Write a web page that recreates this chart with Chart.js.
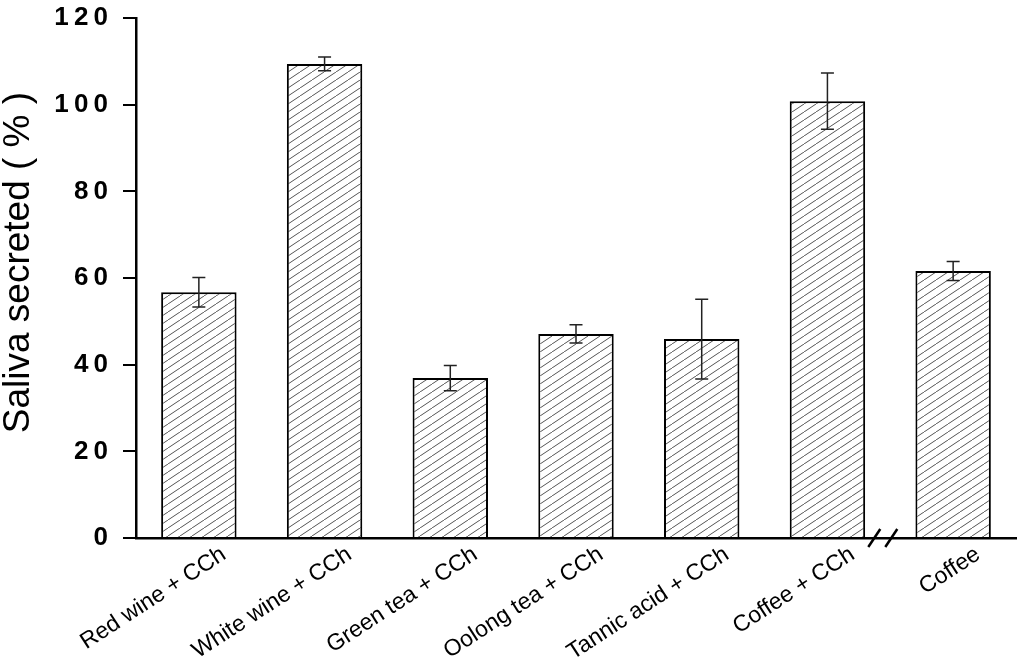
<!DOCTYPE html>
<html>
<head>
<meta charset="utf-8">
<script src="https://cdn.jsdelivr.net/npm/chart.js@4"></script>
<style>
  html, body { margin: 0; padding: 0; background: #fff; }
</style>
</head>
<body>
<canvas id="bar-chart" width="1024" height="667"></canvas>
<script>
const categories = ['Red wine + CCh', 'White wine + CCh', 'Green tea + CCh', 'Oolong tea + CCh', 'Tannic acid + CCh', 'Coffee + CCh', 'Coffee'];
const saliva = [56.7, 109.4, 36.9, 47.1, 45.9, 100.8, 61.6];
const salivaErr = [3.4, 1.6, 2.9, 2.1, 9.2, 6.5, 2.2];
const yTicks = [0, 20, 40, 60, 80, 100, 120];
// the axis break sits between these two bars
const breakAfter = 5;

const FONT = "'Liberation Sans', Arial, sans-serif";

// diagonal hatch fill
function makeHatch() {
  const w = 12, h = 8;
  const c = document.createElement('canvas');
  c.width = w; c.height = h;
  const g = c.getContext('2d');
  g.fillStyle = '#fff';
  g.fillRect(0, 0, w, h);
  g.strokeStyle = '#555';
  g.lineWidth = 1;
  [-w, 0, w].forEach(dx => {
    g.beginPath();
    g.moveTo(dx, h);
    g.lineTo(dx + w, 0);
    g.stroke();
  });
  return g.createPattern(c, 'repeat');
}

const errorBars = {
  id: 'errorBars',
  afterDatasetsDraw(chart) {
    const ctx = chart.ctx;
    const y = chart.scales.y;
    const meta = chart.getDatasetMeta(0);
    ctx.save();
    ctx.strokeStyle = '#222';
    ctx.lineWidth = 1.5;
    meta.data.forEach((bar, i) => {
      const top = y.getPixelForValue(saliva[i] + salivaErr[i]);
      const bot = y.getPixelForValue(saliva[i] - salivaErr[i]);
      ctx.beginPath();
      ctx.moveTo(bar.x, top); ctx.lineTo(bar.x, bot);
      ctx.moveTo(bar.x - 6.5, top); ctx.lineTo(bar.x + 6.5, top);
      ctx.moveTo(bar.x - 6.5, bot); ctx.lineTo(bar.x + 6.5, bot);
      ctx.stroke();
    });
    ctx.restore();
  }
};

const axisBreak = {
  id: 'axisBreak',
  afterDraw(chart) {
    const ctx = chart.ctx;
    const x = chart.scales.x;
    const mid = (x.getPixelForValue(breakAfter) + x.getPixelForValue(breakAfter + 1)) / 2 - 7.5;
    const b = chart.chartArea.bottom;
    ctx.save();
    ctx.strokeStyle = '#000';
    ctx.lineWidth = 2.5;
    [-8.5, 8.5].forEach(d => {
      ctx.beginPath();
      ctx.moveTo(mid + d - 6, b + 9);
      ctx.lineTo(mid + d + 6, b - 9);
      ctx.stroke();
    });
    ctx.restore();
  }
};

new Chart(document.getElementById('bar-chart'), {
  type: 'bar',
  data: {
    labels: categories,
    datasets: [{
      data: saliva,
      backgroundColor: makeHatch(),
      borderColor: '#000',
      borderWidth: 2,
      barPercentage: 0.6,
      categoryPercentage: 1
    }]
  },
  options: {
    responsive: false,
    animation: false,
    devicePixelRatio: 1,
    layout: { padding: { top: 18, right: 8, left: 0, bottom: 0 } },
    plugins: { legend: { display: false }, tooltip: { enabled: false } },
    scales: {
      x: {
        grid: { display: false, drawTicks: false },
        border: { display: true, color: '#000', width: 2.5 },
        ticks: {
          color: '#000',
          font: { family: FONT, size: 23 },
          minRotation: 33,
          maxRotation: 33,
          autoSkip: false,
          labelOffset: 25,
          padding: 3
        },
        afterFit(scale) { scale.height = 129; }
      },
      y: {
        min: 0,
        max: 120,
        afterBuildTicks(scale) { scale.ticks = yTicks.map(v => ({ value: v })); },
        grid: { drawOnChartArea: false, drawTicks: true, tickLength: 13, color: '#000', lineWidth: 2 },
        border: { display: true, color: '#000', width: 2.5 },
        ticks: {
          color: '#000',
          padding: 15,
          font: { family: FONT, size: 26, weight: 'bold' },
          callback: v => String(v).split('').join('\u2009')
        },
        title: {
          display: true,
          text: '\u00a0\u00a0\u00a0Saliva secreted ( % )',
          color: '#000',
          font: { family: FONT, size: 37, lineHeight: 1.0 },
          padding: 0
        },
        afterFit(scale) {
          scale.width = 136;
          scale.paddingTop = 0;
          scale.paddingBottom = 0;
        }
      }
    }
  },
  plugins: [errorBars, axisBreak]
});
</script>
</body>
</html>
